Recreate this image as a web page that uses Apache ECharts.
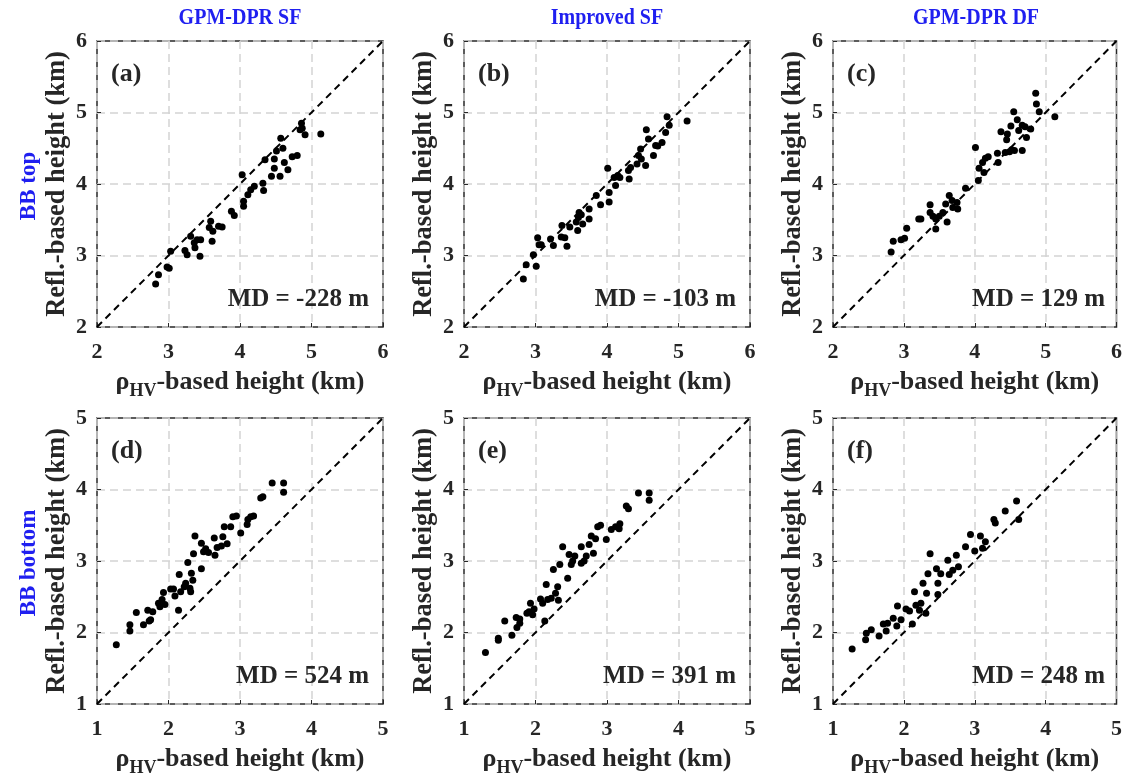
<!DOCTYPE html>
<html>
<head>
<meta charset="utf-8">
<script src="https://cdn.jsdelivr.net/npm/echarts@6/dist/echarts.min.js"></script>
<style>html,body{margin:0;padding:0;background:#fff;}#c{width:1125px;height:779px;}</style>
</head>
<body>
<div id="c"></div>
<script>
// ---------- DATA ----------
var columnTitles = ['GPM-DPR SF', 'Improved SF', 'GPM-DPR DF'];
var rowTitles = ['BB top', 'BB bottom'];
var panelLetters = ['(a)', '(b)', '(c)', '(d)', '(e)', '(f)'];
var mdLabels = ['MD = -228 m', 'MD = -103 m', 'MD = 129 m', 'MD = 524 m', 'MD = 391 m', 'MD = 248 m'];
var topRange = [2, 6];
var bottomRange = [1, 5];
var yAxisName = 'Refl.-based height (km)';
var xAxisNameMain = '-based height (km)';

var topSF = [[2.82,2.60],[2.86,2.73],[2.98,2.84],[3.01,2.82],[3.03,3.06],[3.23,3.07],[3.26,3.01],[3.31,3.27],[3.36,3.18],[3.40,3.22],[3.45,3.22],[3.44,2.99],[3.37,3.11],[3.59,3.48],[3.57,3.39],[3.62,3.34],[3.61,3.20],[3.70,3.41],[3.75,3.40],[3.88,3.62],[3.92,3.56],[4.03,4.13],[4.05,3.76],[4.05,3.69],[4.11,3.85],[4.15,3.92],[4.20,3.97],[4.32,4.01],[4.33,3.91],[4.35,4.34],[4.44,4.11],[4.48,4.22],[4.48,4.35],[4.51,4.46],[4.56,4.11],[4.57,4.64],[4.60,4.50],[4.62,4.30],[4.67,4.20],[4.73,4.38],[4.80,4.40],[4.84,4.76],[4.86,4.85],[4.87,4.78],[4.91,4.69],[5.13,4.70]];
var topImp = [[2.83,2.67],[2.87,2.87],[2.97,3.01],[3.01,2.85],[3.03,3.25],[3.05,3.15],[3.08,3.15],[3.21,3.23],[3.25,3.14],[3.36,3.26],[3.37,3.42],[3.41,3.25],[3.44,3.13],[3.48,3.40],[3.57,3.47],[3.59,3.35],[3.60,3.53],[3.61,3.60],[3.64,3.57],[3.66,3.44],[3.75,3.51],[3.75,3.65],[3.85,3.84],[3.91,3.71],[4.01,4.22],[4.03,3.88],[4.03,3.75],[4.10,4.09],[4.12,3.98],[4.15,4.12],[4.18,4.09],[4.30,4.19],[4.31,4.07],[4.33,4.23],[4.42,4.28],[4.44,4.40],[4.47,4.49],[4.48,4.35],[4.54,4.26],[4.55,4.76],[4.58,4.63],[4.65,4.40],[4.68,4.54],[4.71,4.53],[4.77,4.58],[4.82,4.72],[4.84,4.94],[4.87,4.82],[5.12,4.88]];
var topDF = [[2.82,3.05],[2.85,3.20],[2.96,3.22],[3.01,3.24],[3.04,3.38],[3.21,3.51],[3.24,3.51],[3.37,3.71],[3.37,3.60],[3.41,3.55],[3.45,3.51],[3.45,3.37],[3.50,3.55],[3.55,3.60],[3.59,3.72],[3.64,3.84],[3.61,3.47],[3.68,3.77],[3.69,3.67],[3.75,3.74],[3.76,3.65],[3.87,3.94],[4.01,4.51],[4.05,4.05],[4.06,4.22],[4.11,4.30],[4.13,4.16],[4.15,4.36],[4.19,4.38],[4.32,4.43],[4.33,4.30],[4.37,4.73],[4.43,4.44],[4.45,4.62],[4.46,4.70],[4.49,4.45],[4.52,4.48],[4.55,5.01],[4.51,4.81],[4.60,4.90],[4.62,4.75],[4.56,4.47],[4.67,4.82],[4.73,4.65],[4.71,4.80],[4.67,4.47],[4.79,4.77],[4.86,5.27],[4.87,5.12],[4.91,5.01],[5.13,4.94]];
var botSF = [[1.27,1.83],[1.46,2.11],[1.46,2.02],[1.55,2.28],[1.65,2.11],[1.71,2.31],[1.75,2.18],[1.78,2.29],[1.73,2.16],[1.86,2.41],[1.88,2.36],[1.91,2.46],[1.93,2.56],[1.95,2.39],[2.03,2.61],[2.07,2.61],[2.09,2.51],[2.14,2.31],[2.15,2.81],[2.17,2.57],[2.22,2.64],[2.24,2.69],[2.27,2.98],[2.30,2.62],[2.31,2.57],[2.32,2.83],[2.34,2.73],[2.35,3.10],[2.37,3.35],[2.46,2.89],[2.46,3.25],[2.49,3.13],[2.52,3.17],[2.56,3.12],[2.64,3.32],[2.65,3.08],[2.68,3.19],[2.76,3.34],[2.74,3.21],[2.82,3.24],[2.78,3.48],[2.87,3.48],[2.90,3.62],[2.95,3.63],[3.01,3.39],[3.10,3.51],[3.11,3.58],[3.15,3.62],[3.19,3.63],[3.29,3.88],[3.32,3.90],[3.45,4.09],[3.61,4.09],[3.61,3.96]];
var botImp = [[1.30,1.72],[1.48,1.92],[1.48,1.89],[1.57,2.16],[1.67,1.96],[1.74,2.07],[1.73,2.21],[1.78,2.13],[1.78,2.19],[1.88,2.27],[1.91,2.29],[1.93,2.41],[1.96,2.25],[1.98,2.33],[2.07,2.47],[2.10,2.41],[2.13,2.16],[2.15,2.67],[2.17,2.46],[2.22,2.48],[2.25,2.88],[2.28,2.55],[2.31,2.64],[2.32,2.45],[2.34,2.95],[2.38,3.20],[2.45,2.76],[2.47,3.09],[2.50,2.95],[2.52,3.00],[2.55,3.07],[2.64,2.97],[2.64,3.20],[2.68,3.00],[2.71,3.07],[2.75,3.23],[2.78,3.35],[2.81,3.11],[2.84,3.31],[2.87,3.48],[2.91,3.50],[2.99,3.30],[3.06,3.44],[3.12,3.48],[3.18,3.52],[3.17,3.45],[3.27,3.77],[3.30,3.73],[3.44,3.95],[3.59,3.95],[3.59,3.85]];
var botDF = [[1.27,1.77],[1.46,1.90],[1.47,1.99],[1.54,2.04],[1.65,1.95],[1.71,2.12],[1.75,2.02],[1.77,2.13],[1.85,2.20],[1.91,2.37],[1.90,2.09],[1.96,2.18],[2.03,2.33],[2.08,2.30],[2.12,2.12],[2.15,2.57],[2.17,2.38],[2.22,2.31],[2.24,2.41],[2.27,2.69],[2.31,2.27],[2.32,2.55],[2.34,2.82],[2.37,3.10],[2.46,2.89],[2.48,2.69],[2.48,2.53],[2.52,2.82],[2.62,3.01],[2.64,2.81],[2.69,2.87],[2.74,3.08],[2.77,2.92],[2.87,3.20],[2.94,3.37],[3.00,3.14],[3.08,3.35],[3.11,3.18],[3.15,3.27],[3.27,3.58],[3.29,3.53],[3.43,3.70],[3.59,3.84],[3.62,3.58]];

var panelData = [topSF, topImp, topDF, botSF, botImp, botDF];

// ---------- LAYOUT ----------
var FONT = "'Liberation Serif', 'Times New Roman', serif";
var TXT = '#262626';
var BLUE = '#1f1ff0';
var gridLefts = [97, 464, 833];
var gridTops = [41, 418];
var GW = 286, GH = 286;

var grids = [], xAxes = [], yAxes = [], series = [], graphics = [];
for (var i = 0; i < 6; i++) {
  var r = Math.floor(i / 3), c = i % 3;
  var range = r === 0 ? topRange : bottomRange;
  var L = gridLefts[c], T = gridTops[r];
  grids.push({left: L, top: T, width: GW, height: GH, show: true, borderColor: TXT, borderWidth: 1.5, backgroundColor: '#fff'});
  var common = {
    gridIndex: i, type: 'value', min: range[0], max: range[1], interval: 1,
    axisLine: {show: false},
    axisTick: {show: true, inside: true, length: 4, lineStyle: {color: TXT, width: 1}},
    splitLine: {show: true, lineStyle: {color: '#d4d4d4', width: 1.5, type: [8, 5]}},
    axisLabel: {color: TXT, fontFamily: FONT, fontWeight: 'bold', fontSize: 22}
  };
  var xa = JSON.parse(JSON.stringify(common));
  xa.axisLabel.margin = 14;
  xa.name = '{r|ρ}{s|HV}{r|' + xAxisNameMain + '}';
  xa.nameLocation = 'middle';
  xa.nameGap = 38;
  xa.nameTextStyle = {
    rich: {
      r: {fontFamily: FONT, fontWeight: 'bold', fontSize: 26, color: TXT, lineHeight: 28},
      s: {fontFamily: FONT, fontWeight: 'bold', fontSize: 18, color: TXT, lineHeight: 18, padding: [18, 0, 0, 0]}
    }
  };
  xAxes.push(xa);
  var ya = JSON.parse(JSON.stringify(common));
  ya.axisLabel.margin = 10;
  ya.name = yAxisName;
  ya.nameLocation = 'middle';
  ya.nameGap = 26;
  ya.nameTextStyle = {fontFamily: FONT, fontWeight: 'bold', fontSize: 26.5, color: TXT};
  yAxes.push(ya);

  series.push({
    type: 'line', xAxisIndex: i, yAxisIndex: i, data: [[range[0], range[0]], [range[1], range[1]]],
    symbol: 'none', silent: true, lineStyle: {color: '#000', width: 2, type: [7, 5]}, z: 3
  });
  series.push({
    type: 'scatter', xAxisIndex: i, yAxisIndex: i, data: panelData[i],
    symbol: 'circle', symbolSize: 7, itemStyle: {color: '#000', opacity: 1}, z: 4
  });

  graphics.push({type: 'text', left: L + 14, top: T + 20, z: 10,
    style: {text: panelLetters[i], font: 'bold 26px ' + FONT, fill: TXT}});
  graphics.push({type: 'text', right: 1125 - (L + GW - 14), top: T + GH - 40, z: 10,
    style: {text: mdLabels[i], font: 'bold 25px ' + FONT, fill: TXT}});
}

for (var c2 = 0; c2 < 3; c2++) {
  graphics.push({type: 'text', x: gridLefts[c2] + GW / 2, y: 18, scaleY: 1.15, z: 10,
    style: {text: columnTitles[c2], font: 'bold 20px ' + FONT, fill: BLUE, align: 'center', verticalAlign: 'middle'}});
}
for (var r2 = 0; r2 < 2; r2++) {
  graphics.push({type: 'text', x: 29, y: gridTops[r2] + GH / 2 + 2, rotation: Math.PI / 2, z: 10,
    style: {text: rowTitles[r2], font: 'bold 23px ' + FONT, fill: BLUE, align: 'center', verticalAlign: 'middle'}});
}

var chart = echarts.init(document.getElementById('c'), null, {renderer: 'canvas'});
chart.setOption({
  animation: false,
  backgroundColor: '#fff',
  grid: grids, xAxis: xAxes, yAxis: yAxes, series: series, graphic: graphics
});
</script>
</body>
</html>
